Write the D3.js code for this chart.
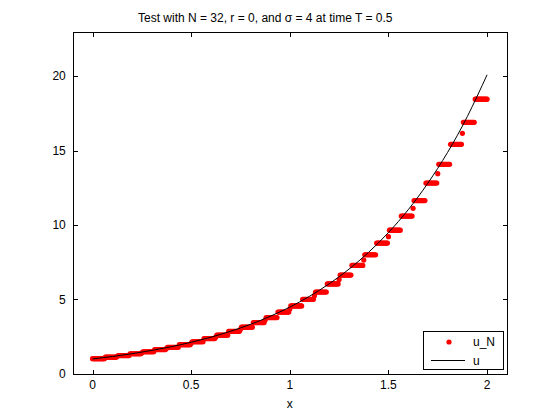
<!DOCTYPE html>
<html>
<head>
<meta charset="utf-8">
<script src="https://cdn.jsdelivr.net/npm/d3@7"></script>
<style>
  html, body { margin: 0; padding: 0; background: #fff; }
  text { font-family: "Liberation Sans", Arial, Helvetica, sans-serif; fill: #000; }
</style>
</head>
<body>
<svg id="chart" width="560" height="420"></svg>
<script>
// ---- data ----
const titleText = "Test with N = 32, r = 0, and \u03c3 = 4 at time T = 0.5";
const xTicks = [0, 0.5, 1, 1.5, 2];
const xTickLabels = ["0", "0.5", "1", "1.5", "2"];
const yTicks = [0, 5, 10, 15, 20];
const yTickLabels = ["0", "5", "10", "15", "20"];
const xLabel = "x";
const legendLabels = ["u_N", "u"];

// exact solution u
const uX = [0, 0.1, 0.2, 0.3, 0.4, 0.5, 0.6, 0.7, 0.8, 0.9, 1.0, 1.1, 1.2, 1.3, 1.4, 1.5, 1.6, 1.7, 1.8, 1.9, 2.0];
const uY = [1.00, 1.16, 1.35, 1.57, 1.82, 2.12, 2.46, 2.86, 3.32, 3.86, 4.48, 5.21, 6.05, 7.03, 8.17, 9.49, 11.02, 12.81, 14.88, 17.29, 20.09];

// approximation u_N : 32 piecewise-constant cell levels on [0,2]
const cellLevels = [1.017, 1.117, 1.227, 1.347, 1.480, 1.625, 1.785, 1.960,
                    2.153, 2.365, 2.597, 2.852, 3.133, 3.440, 3.779, 4.150,
                    4.558, 5.006, 5.498, 6.038, 6.632, 7.284, 7.999, 8.785,
                    9.649, 10.597, 11.639, 12.82, 14.08, 15.42, 16.90, 18.45];
// isolated points sitting on the jumps at x = 0.125, 0.25, ..., 1.875
const jumpX = [0.125, 0.25, 0.375, 0.5, 0.625, 0.75, 0.875, 1.0, 1.125, 1.25, 1.375, 1.5, 1.625, 1.75, 1.875];
const jumpY = [1.172, 1.414, 1.705, 2.057, 2.481, 2.993, 3.610, 4.354, 5.252, 6.335, 7.642, 9.217, 11.118, 13.45, 16.16];

// ---- layout ----
const W = 560, H = 420;
const L = 72.8, T = 31.5, R = 506.8, B = 373.8;
const FS = 12;

const svg = d3.select("#chart");
svg.append("rect").attr("width", W).attr("height", H).attr("fill", "#fff");

const x = d3.scaleLinear().domain([-0.1, 2.1]).range([L, R]);
const y = d3.scaleLinear().domain([0, 23]).range([B, T]);

// sample points of u_N: dense grid on each cell
const nCells = cellLevels.length;
const perCell = 12.5; // grid step 0.005
const pts = [];
for (let i = 0; i <= 400; i++) {
  const xv = i * 0.005;
  const j = jumpX.findIndex(v => Math.abs(v - xv) < 1e-9);
  if (j >= 0) { pts.push([xv, jumpY[j]]); continue; }
  const c = Math.min(nCells - 1, Math.floor(i / perCell));
  pts.push([xv, cellLevels[c]]);
}

const plot = svg.append("g");
plot.selectAll("circle.uN").data(pts).enter().append("circle")
  .attr("class", "uN")
  .attr("cx", d => x(d[0])).attr("cy", d => y(d[1]))
  .attr("r", 2.6).attr("fill", "#ff0000");

const line = d3.line().x((d, i) => x(uX[i])).y(d => y(d)).curve(d3.curveNatural);
plot.append("path").datum(uY).attr("d", line)
  .attr("fill", "none").attr("stroke", "#000").attr("stroke-width", 1);

// ---- axes box ----
const ax = svg.append("g");
ax.append("rect").attr("x", Math.round(L) + 0.5).attr("y", Math.round(T) + 0.5)
  .attr("width", Math.round(R) - Math.round(L)).attr("height", Math.round(B) - Math.round(T))
  .attr("fill", "none").attr("stroke", "#000").attr("stroke-width", 1);

const tl = 4.5;
const bx = Math.round(B) + 0.5, tx = Math.round(T) + 0.5, lx = Math.round(L) + 0.5, rx = Math.round(R) + 0.5;
xTicks.forEach((t, i) => {
  const px = Math.round(x(t)) + 0.5;
  ax.append("line").attr("x1", px).attr("x2", px).attr("y1", bx).attr("y2", bx - tl).attr("stroke", "#000");
  ax.append("line").attr("x1", px).attr("x2", px).attr("y1", tx).attr("y2", tx + tl).attr("stroke", "#000");
  ax.append("text").attr("x", x(t)).attr("y", 389).attr("text-anchor", "middle")
    .attr("font-size", FS).text(xTickLabels[i]);
});
yTicks.forEach((t, i) => {
  const py = Math.round(y(t)) + 0.5;
  ax.append("line").attr("x1", lx).attr("x2", lx + tl).attr("y1", py).attr("y2", py).attr("stroke", "#000");
  ax.append("line").attr("x1", rx).attr("x2", rx - tl).attr("y1", py).attr("y2", py).attr("stroke", "#000");
  ax.append("text").attr("x", L - 7).attr("y", y(t) + 4.3).attr("text-anchor", "end")
    .attr("font-size", FS).text(yTickLabels[i]);
});

ax.append("text").attr("x", (L + R) / 2).attr("y", 408).attr("text-anchor", "middle")
  .attr("font-size", FS).text(xLabel);

svg.append("text").attr("x", 138).attr("y", 22).attr("text-anchor", "start")
  .attr("font-size", FS).text(titleText);

// ---- legend ----
const lg = svg.append("g");
lg.append("rect").attr("x", 423.5).attr("y", 331.5).attr("width", 80).attr("height", 38)
  .attr("fill", "#fff").attr("stroke", "#000").attr("stroke-width", 1);
lg.append("circle").attr("cx", 449).attr("cy", 342).attr("r", 2.6).attr("fill", "#ff0000");
lg.append("text").attr("x", 473).attr("y", 346).attr("font-size", FS).text(legendLabels[0]);
lg.append("line").attr("x1", 431).attr("x2", 465).attr("y1", 360.5).attr("y2", 360.5)
  .attr("stroke", "#000").attr("stroke-width", 1);
lg.append("text").attr("x", 473).attr("y", 364.5).attr("font-size", FS).text(legendLabels[1]);
</script>
</body>
</html>
